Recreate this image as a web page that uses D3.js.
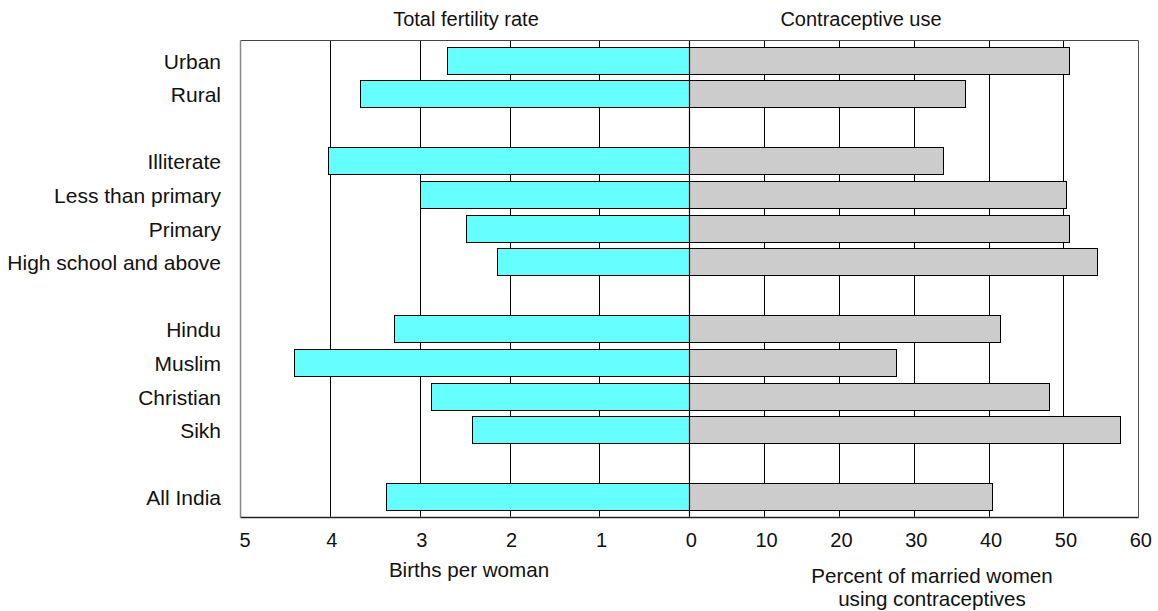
<!DOCTYPE html>
<html>
<head>
<meta charset="utf-8">
<script src="https://cdn.jsdelivr.net/npm/d3@7"></script>
<style>
  html, body { margin: 0; padding: 0; background: #fff; }
  svg text { font-family: "Liberation Sans", Arial, Helvetica, sans-serif; fill: #111; }
</style>
</head>
<body>
<svg id="chart" width="1158" height="611"></svg>
<script>
// ---- Data ----
const categories = ["Urban", "Rural", "Illiterate", "Less than primary", "Primary",
  "High school and above", "Hindu", "Muslim", "Christian", "Sikh", "All India"];
// row layout including blank spacer rows (null)
const rowOrder = ["Urban", "Rural", null, "Illiterate", "Less than primary", "Primary",
  "High school and above", null, "Hindu", "Muslim", "Christian", "Sikh", null, "All India"];
const fertility = [2.70, 3.67, 4.02, 3.00, 2.49, 2.14, 3.29, 4.40, 2.87, 2.42, 3.38];
const contraceptive = [50.8, 36.8, 33.9, 50.3, 50.7, 54.5, 41.5, 27.6, 48.1, 57.5, 40.5];
const leftTicks = [5, 4, 3, 2, 1, 0];
const rightTicks = [10, 20, 30, 40, 50, 60];
const leftTitle = "Total fertility rate";
const rightTitle = "Contraceptive use";
const leftAxisTitle = ["Births per woman"];
const rightAxisTitle = ["Percent of married women", "using contraceptives"];

// ---- Layout ----
const svg = d3.select("#chart");
const plotLeft = 240, plotRight = 1138.3, zeroX = 689.3;
const plotTop = 40, plotBottom = 516.7;

const xL = d3.scaleLinear().domain([0, 5]).range([zeroX, plotLeft]);
const xR = d3.scaleLinear().domain([0, 60]).range([zeroX, plotRight]);
const y = d3.scaleBand()
  .domain(d3.range(rowOrder.length))
  .range([43.2, 513.6])
  .paddingInner(0.2)
  .paddingOuter(0.1);

const rows = categories.map((c, i) => ({
  name: c, slot: rowOrder.indexOf(c), tfr: fertility[i], cu: contraceptive[i]
}));

// Grid lines
const grid = svg.append("g");
grid.selectAll("line.gl").data(leftTicks.filter(d => d !== 5 && d !== 0)).enter()
  .append("line")
  .attr("x1", d => Math.round(xL(d)) + 0.5).attr("x2", d => Math.round(xL(d)) + 0.5)
  .attr("y1", plotTop).attr("y2", plotBottom)
  .attr("stroke", "#000").attr("stroke-width", 1);
grid.selectAll("line.gr").data(rightTicks.filter(d => d !== 60)).enter()
  .append("line")
  .attr("x1", d => Math.round(xR(d)) + 0.5).attr("x2", d => Math.round(xR(d)) + 0.5)
  .attr("y1", plotTop).attr("y2", plotBottom)
  .attr("stroke", "#000").attr("stroke-width", 1);

// Bars
const bars = svg.append("g");
bars.selectAll("rect.l").data(rows).enter().append("rect")
  .attr("x", d => Math.round(xL(d.tfr)) + 0.5)
  .attr("y", d => Math.round(y(d.slot)) + 0.5)
  .attr("width", d => Math.round(xL(0)) - Math.round(xL(d.tfr)))
  .attr("height", Math.round(y.bandwidth()))
  .attr("fill", "#66FFFF").attr("stroke", "#000").attr("stroke-width", 1);
bars.selectAll("rect.r").data(rows).enter().append("rect")
  .attr("x", d => Math.round(xR(0)) + 0.5)
  .attr("y", d => Math.round(y(d.slot)) + 0.5)
  .attr("width", d => Math.round(xR(d.cu)) - Math.round(xR(0)))
  .attr("height", Math.round(y.bandwidth()))
  .attr("fill", "#CCCCCC").attr("stroke", "#000").attr("stroke-width", 1);

// Zero line
svg.append("line")
  .attr("x1", Math.round(zeroX) + 0.5).attr("x2", Math.round(zeroX) + 0.5)
  .attr("y1", plotTop).attr("y2", plotBottom)
  .attr("stroke", "#000").attr("stroke-width", 1.2);

// Frame
const fl = Math.round(plotLeft) + 0.5, fr = Math.round(plotRight) + 0.5;
const ft = Math.round(plotTop) + 0.5, fb = Math.round(plotBottom) + 0.5;
svg.append("line").attr("x1", fl).attr("x2", fr).attr("y1", ft).attr("y2", ft).attr("stroke", "#444");
svg.append("line").attr("x1", fr).attr("x2", fr).attr("y1", ft).attr("y2", fb).attr("stroke", "#555");
svg.append("line").attr("x1", fl).attr("x2", fr).attr("y1", fb).attr("y2", fb).attr("stroke", "#222").attr("stroke-width", 1.5);
svg.append("line").attr("x1", fl).attr("x2", fl).attr("y1", ft).attr("y2", fb).attr("stroke", "#888").attr("stroke-width", 1.5);

// Category labels
svg.append("g").selectAll("text").data(rows).enter().append("text")
  .attr("x", 221)
  .attr("y", d => y(d.slot) + y.bandwidth() / 2 + 1)
  .attr("dy", "0.36em")
  .attr("text-anchor", "end")
  .attr("font-size", 21)
  .text(d => d.name);

// Tick labels
const tickY = 547;
svg.append("g").selectAll("text").data(leftTicks).enter().append("text")
  .attr("x", d => xL(d) + (d === 5 ? 5 : 2))
  .attr("y", tickY)
  .attr("text-anchor", "middle")
  .attr("font-size", 20)
  .text(d => d);
svg.append("g").selectAll("text").data(rightTicks).enter().append("text")
  .attr("x", d => xR(d) + 2.5)
  .attr("y", tickY)
  .attr("text-anchor", "middle")
  .attr("font-size", 20)
  .text(d => d);

// Panel titles
svg.append("text").attr("x", 466).attr("y", 26).attr("text-anchor", "middle")
  .attr("font-size", 20).text(leftTitle);
svg.append("text").attr("x", 861).attr("y", 26).attr("text-anchor", "middle")
  .attr("font-size", 20).text(rightTitle);

// Axis titles
svg.append("g").selectAll("text").data(leftAxisTitle).enter().append("text")
  .attr("x", 469).attr("y", (d, i) => 577 + i * 22.5)
  .attr("text-anchor", "middle").attr("font-size", 20.6).text(d => d);
svg.append("g").selectAll("text").data(rightAxisTitle).enter().append("text")
  .attr("x", 932).attr("y", (d, i) => 583 + i * 22.5)
  .attr("text-anchor", "middle").attr("font-size", 20.6).text(d => d);
</script>
</body>
</html>
